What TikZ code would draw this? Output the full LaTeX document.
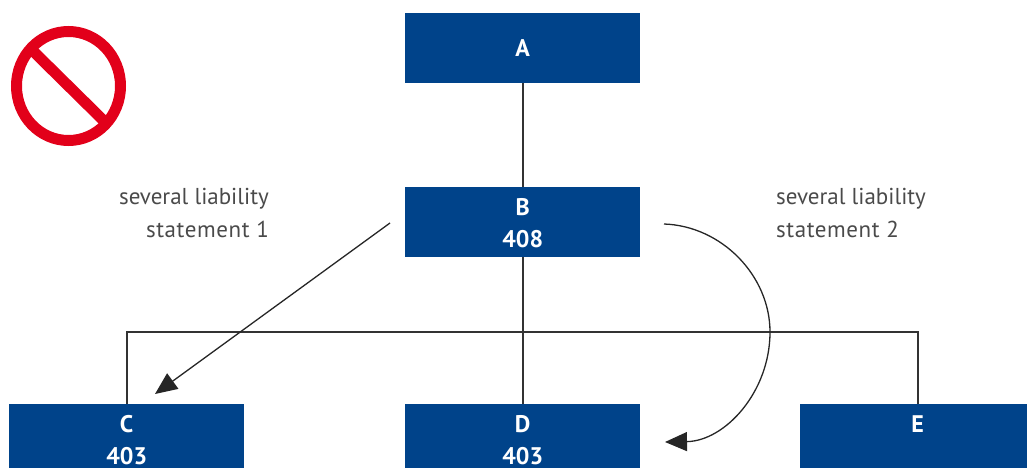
\documentclass[tikz,border=0pt]{standalone}
\usepackage{fontspec}
\setmainfont{PT Sans}
\usetikzlibrary{arrows.meta}
\definecolor{boxblue}{HTML}{00438A}
\definecolor{signred}{HTML}{E2001A}
\definecolor{labelgray}{HTML}{4A4A4A}
\newcommand\unitstrut{\rule{0pt}{18pt}}
\newcommand\widerline{\addfontfeature{LetterSpace=2.5}}
\tikzset{
  x=1pt,y=-1pt,
  unit/.style={fill=boxblue,text=white,minimum width=235pt,minimum height=70pt,inner sep=0pt,align=center,anchor=north west,font=\fontsize{24}{32}\selectfont\bfseries},
  wire/.style={draw=black!80,line width=2pt},
  statement/.style={text=labelgray,font=\fontsize{23}{33}\selectfont,inner sep=0pt,align=left,anchor=north west},
  move/.style={draw=black!85,line width=1.3pt,-{Triangle[length=22pt,width=19pt]}}
}
\begin{document}
\begin{tikzpicture}
\useasboundingbox (0,0) rectangle (1027,468);
\clip (0,0) rectangle (1027,468);
\node[unit] (A) at (405,13) {A};
\node[unit] (B) at (405,187) {\unitstrut B\\408};
\node[unit] (C) at (9,404) {\unitstrut C\\403};
\node[unit] (D) at (405,404) {\unitstrut D\\403};
\node[unit] (E) at (800,404) {\unitstrut E\\\phantom{403}};
\coordinate (busC) at (C.north |- 0,332);
\coordinate (busE) at (E.north |- 0,332);
\coordinate (s1) at (390,223);
\coordinate (t1) at (155,394);
\coordinate (s2) at (664,224);
\coordinate (m2) at (770,332);
\coordinate (t2) at (665,442);
\draw[wire] (A) -- (B);
\draw[wire] (B) -- (D);
\draw[wire] (C.north) -- (busC) -- (busE) -- (E.north);
\draw[move] (s1) -- (t1);
\draw[move] (s2) .. controls (722,226) and (770,276) .. (m2) .. controls (770,392) and (725,441) .. (t2);
\node[statement,align=right,anchor=north east] (L1) at (269,188) {several liability\\{\widerline statement 1}};
\node[statement] (L2) at (776,188) {several liability\\{\widerline statement 2}};
\draw[signred,line width=11pt] (68.5,86) ellipse (52 and 54.5);
\draw[signred,line width=11pt] (33,51) -- (104,121);
\end{tikzpicture}
\end{document}
